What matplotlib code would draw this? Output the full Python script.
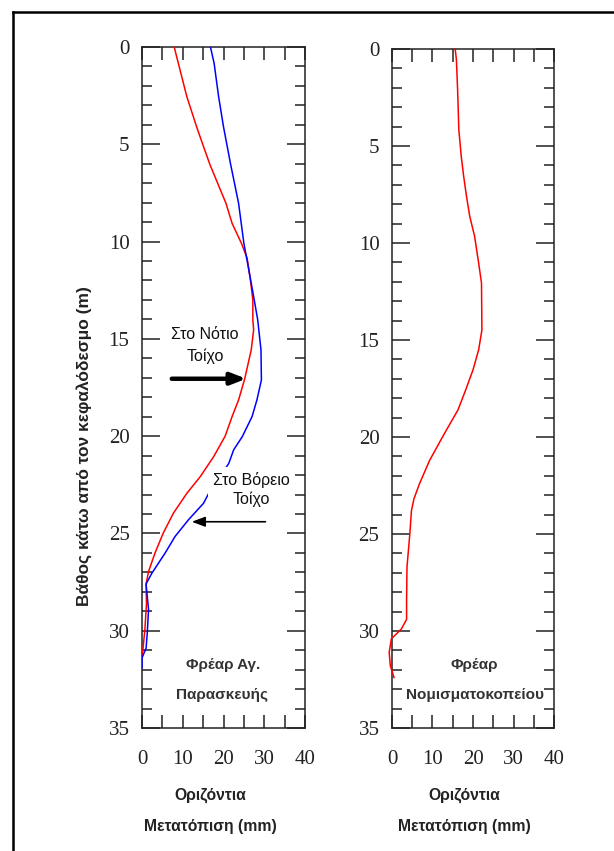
import matplotlib
matplotlib.use("Agg")
import matplotlib.pyplot as plt
from matplotlib.lines import Line2D
from matplotlib.ticker import MultipleLocator

# ---------------- data ----------------
left_red_depth = [0, 2.55, 4.1, 5.0, 6.06, 8.03, 9.06, 10.09, 10.85, 11.97, 13.0, 14.03,
                  14.54, 15.57, 17.06, 18.14, 19.0, 20.0, 21.05, 22.08, 22.94, 23.96,
                  24.99, 26.0, 26.96, 27.6, 28.6, 29.96, 30.8, 31.4]
left_red_disp = [7.9, 11.0, 13.4, 14.9, 16.7, 20.6, 22.1, 24.4, 25.8, 26.6, 27.2, 27.2,
                 27.4, 26.8, 25.2, 23.7, 22.1, 20.4, 17.6, 14.3, 11.0, 7.7,
                 5.2, 3.2, 1.6, 1.0, 1.1, 0.7, 0.3, 0.0]

left_blue_depth = [0, 0.84, 2.55, 4.1, 5.98, 8.03, 10.09, 11.1, 12.83, 14.03, 15.57, 17.11,
                   18.14, 19.0, 20.03, 20.7, 21.4, 22.85, 23.45, 24.3, 25.16, 26.0, 27.05,
                   27.6, 28.9, 30.1, 30.9, 31.4, 31.9]
left_blue_disp = [16.8, 17.7, 18.8, 20.0, 21.7, 23.7, 25.0, 25.9, 27.4, 28.4, 29.2, 29.3,
                  28.2, 27.0, 24.6, 22.5, 21.3, 16.6, 15.1, 11.4, 8.1, 5.7, 2.4,
                  1.0, 1.6, 1.3, 1.0, 0.0, 0.0]

right_red_depth = [0, 0.55, 2.1, 4.16, 5.54, 6.57, 7.6, 8.63, 9.66, 11.04, 12.07, 14.48,
                   15.5, 16.54, 17.57, 18.6, 19.8, 21.2, 22.4, 23.2, 23.8, 25.0, 26.7,
                   28.4, 29.4, 29.9, 30.4, 31.1, 31.8, 32.4]
right_red_disp = [15.6, 15.9, 16.2, 16.5, 17.1, 17.7, 18.4, 19.2, 20.4, 21.4, 22.1, 22.2,
                  21.4, 20.0, 18.2, 16.3, 13.0, 9.3, 6.8, 5.4, 4.8, 4.4, 3.7,
                  3.6, 3.6, 2.3, -0.15, -0.7, -0.4, 0.5]

x_ticks = [0, 10, 20, 30, 40]
y_ticks = [0, 5, 10, 15, 20, 25, 30, 35]

y_label = "Βάθος κάτω από τον κεφαλόδεσμο (m)"
x_label_1 = "Οριζόντια"
x_label_2 = "Μετατόπιση (mm)"

# ---------------- figure ----------------
W, H = 614, 851
fig = plt.figure(figsize=(W / 100, H / 100), dpi=100)
fig.patch.set_facecolor("white")

def px_rect(x0, y0, x1, y1):
    return [x0 / W, 1 - y1 / H, (x1 - x0) / W, (y1 - y0) / H]

axL = fig.add_axes(px_rect(142, 47, 305, 728))
axR = fig.add_axes(px_rect(392, 49, 554, 728))

SANS = ["Liberation Sans", "DejaVu Sans"]
SERIF = ["Liberation Serif", "DejaVu Serif"]
DARK = "#222222"

for ax in (axL, axR):
    ax.set_xlim(0, 40)
    ax.set_ylim(35, 0)
    ax.set_xticks(x_ticks)
    ax.xaxis.set_minor_locator(MultipleLocator(5))
    ax.set_yticks(y_ticks)
    ax.yaxis.set_minor_locator(MultipleLocator(1))
    ax.tick_params(axis="y", which="major", direction="in", length=13, width=1.1,
                   left=True, right=True, labelsize=15, pad=9, colors=DARK)
    ax.tick_params(axis="y", which="minor", direction="in", length=7, width=1.1,
                   left=True, right=True, colors=DARK)
    ax.tick_params(axis="x", which="both", direction="in", length=9.5, width=1.1,
                   top=True, bottom=True, labelsize=15, pad=16, colors=DARK)
    for lab in ax.get_xticklabels() + ax.get_yticklabels():
        lab.set_family(SERIF)
        lab.set_color(DARK)
    for s in ax.spines.values():
        s.set_linewidth(1.1)
        s.set_color(DARK)

# curves
axL.plot(left_red_disp, left_red_depth, color="#ff0000", lw=1.1, zorder=3)
axL.plot(left_blue_disp, left_blue_depth, color="#0000ff", lw=1.1, zorder=3)
axR.plot(right_red_disp, right_red_depth, color="#ff0000", lw=1.1, zorder=3, clip_on=False)

# annotations, left panel
axL.text(15.5, 14.8, "Στο Νότιο", family=SANS, fontsize=11.5, ha="center", va="center",
         color="#111111")
axL.text(15.5, 15.9, "Τοίχο", family=SANS, fontsize=11.5, ha="center", va="center",
         color="#111111")
axL.annotate("", xy=(25.6, 17.05), xytext=(7.3, 17.05),
             arrowprops=dict(arrowstyle="-|>,head_length=0.9,head_width=0.35",
                             lw=3.2, color="black", shrinkA=0, shrinkB=0), zorder=5)

axL.text(26.9, 22.76, "Στο Βόρειο\nΤοίχο", family=SANS, fontsize=11.5, ha="center",
         va="center", linespacing=1.3, zorder=6, color="#111111",
         bbox=dict(facecolor="white", edgecolor="none", pad=3.5))
axL.annotate("", xy=(12.2, 24.4), xytext=(30.3, 24.4),
             arrowprops=dict(arrowstyle="-|>,head_length=0.8,head_width=0.3",
                             lw=1.2, color="black", shrinkA=0, shrinkB=0), zorder=5)

axL.text(19.9, 31.75, "Φρέαρ Αγ.", family=SANS, fontsize=11, weight="bold",
         ha="center", va="center", color="#333333")
axL.text(19.7, 33.3, "Παρασκευής", family=SANS, fontsize=11, weight="bold",
         ha="center", va="center", color="#333333")

axR.text(20.4, 31.75, "Φρέαρ", family=SANS, fontsize=11, weight="bold",
         ha="center", va="center", color="#333333")
axR.text(20.4, 33.3, "Νομισματοκοπείου", family=SANS, fontsize=11, weight="bold",
         ha="center", va="center", color="#333333")

# axis titles (figure text)
for cx in (210, 464):
    fig.text(cx / W, 1 - 795 / H, x_label_1, family=SANS, fontsize=11.3, weight="bold",
             ha="center", va="center", color=DARK)
    fig.text(cx / W, 1 - 826 / H, x_label_2, family=SANS, fontsize=11.3, weight="bold",
             ha="center", va="center", color=DARK)

fig.text(84 / W, 1 - 446 / H, y_label, family=SANS, fontsize=12.5, weight="bold",
         rotation=90, ha="center", va="center", color=DARK)

# outer frame (top and left edges)
fig.add_artist(Line2D([12.5 / W, 12.5 / W], [0, 1 - 11.5 / H], transform=fig.transFigure,
                      color="black", lw=1.8))
fig.add_artist(Line2D([12.5 / W, 1], [1 - 11.5 / H, 1 - 11.5 / H], transform=fig.transFigure,
                      color="black", lw=1.8))

fig.savefig("out.png", dpi=100, facecolor="white")
